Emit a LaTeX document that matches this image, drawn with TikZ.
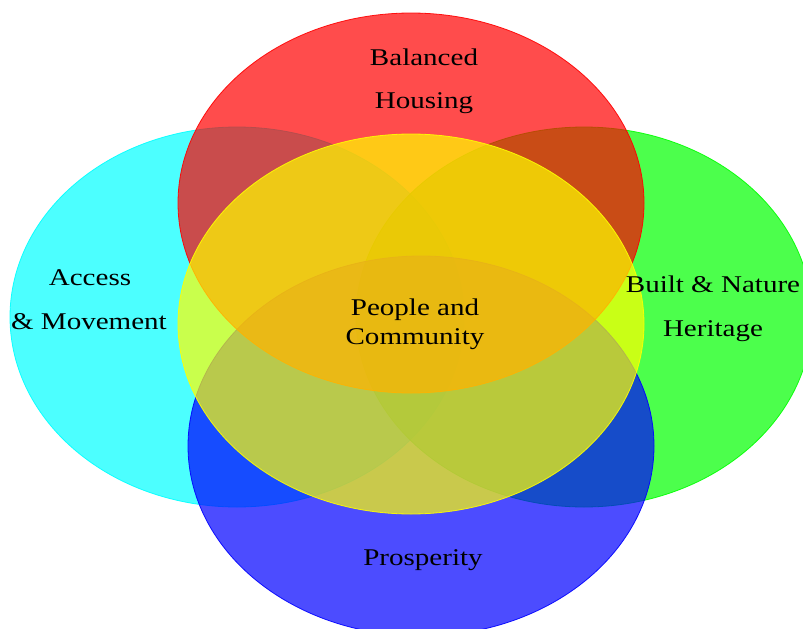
\documentclass[tikz,border=0pt]{standalone}
\usepackage{fontspec}
\setmainfont{Liberation Serif}[FakeStretch=1.21]
\definecolor{ringcyan}{RGB}{0,255,255}
\definecolor{ringgreen}{RGB}{0,255,0}
\definecolor{ringblue}{RGB}{0,0,255}
\definecolor{ringred}{RGB}{255,0,0}
\definecolor{ringyellow}{RGB}{255,255,0}
\begin{document}
\begin{tikzpicture}[x=1pt,y=-1pt,
  blob/.style={fill=#1, draw=#1, fill opacity=0.7, draw opacity=0.9, line width=0.8pt},
  lbl/.style={font=\fontsize{24}{28}\selectfont, inner sep=0pt, text=black, anchor=base}]
\useasboundingbox (0,0) rectangle (803,629);
\clip (0,0) rectangle (803,629);
\fill[white] (0,0) rectangle (803,629);

% the five overlapping areas
\path[blob=ringcyan]  (237,317) ellipse [x radius=227pt, y radius=190pt];
\path[blob=ringgreen] (584,317) ellipse [x radius=228pt, y radius=190pt];
\path[blob=ringblue]  (421,446) ellipse [x radius=233pt, y radius=190pt];
\path[blob=ringred]   (411,203) ellipse [x radius=233pt, y radius=190pt];
\path[blob=ringyellow](411,324) ellipse [x radius=233pt, y radius=190pt];

% labels
\node[lbl] (bal)  at (424,65)  {Balanced};
\node[lbl] (hou)  at (424,108) {Housing};
\node[lbl] (acc)  at (90,285)  {Access};
\node[lbl] (mov)  at (89,329)  {\& Movement};
\node[lbl] (bui)  at (713,292) {Built \& Nature};
\node[lbl] (her)  at (713,336) {Heritage};
\node[lbl] (peo)  at (415,315) {People and};
\node[lbl] (com)  at (415,344) {Community};
\node[lbl] (pro)  at (423,565) {Prosperity};
\end{tikzpicture}
\end{document}
